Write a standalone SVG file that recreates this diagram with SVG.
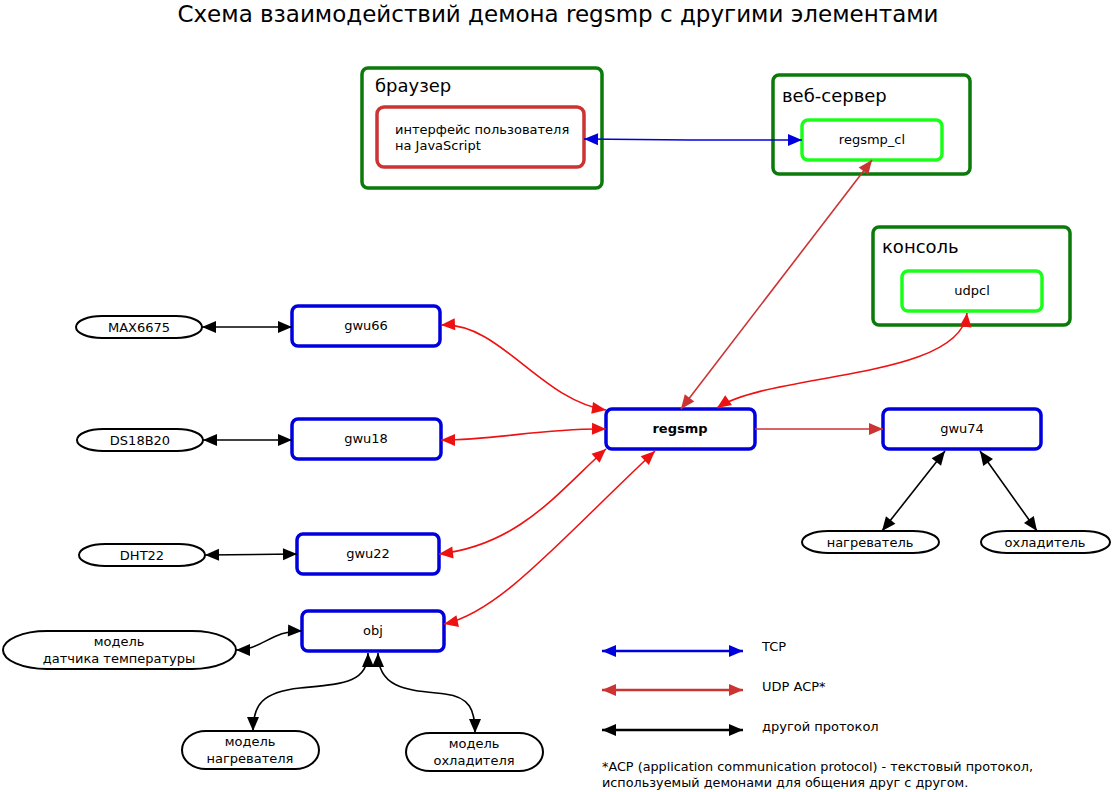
<svg xmlns="http://www.w3.org/2000/svg" width="1114" height="792" viewBox="0 0 1114 792">
<defs>
<style>
text{font-family:"DejaVu Sans","Liberation Sans",sans-serif;fill:#000}
.title{font-size:23px;text-anchor:middle}
.glabel{font-size:18px}
.lbl{font-size:13px;text-anchor:middle}
.bold{font-weight:bold}
.grp{fill:#fff;stroke:#0a7a0a;stroke-width:3.5}
.inner{fill:#fff;stroke:#1aff1a;stroke-width:3.5}
.ui{fill:#fff;stroke:#cc3333;stroke-width:3.5}
.node{fill:#fff;stroke:#0000dd;stroke-width:3.5}
.ell{fill:#fff;stroke:#000;stroke-width:2}
.c{fill:none;stroke-width:1.6}
.tcp{stroke:#0000dd;marker-start:url(#ab);marker-end:url(#ab)}
.udp{stroke:#ee1111;marker-start:url(#ar);marker-end:url(#ar)}
.udp2{stroke:#cc3333;marker-start:url(#ad);marker-end:url(#ad)}
.oth{stroke:#000;marker-start:url(#ak);marker-end:url(#ak)}
.leg{stroke-width:2.5}
</style>
<marker id="ab" markerUnits="userSpaceOnUse" markerWidth="14" markerHeight="12" refX="14" refY="6" orient="auto-start-reverse" overflow="visible"><path d="M0,0 L14,6 L0,12 z" fill="#0000dd"/></marker>
<marker id="ar" markerUnits="userSpaceOnUse" markerWidth="14" markerHeight="12" refX="14" refY="6" orient="auto-start-reverse" overflow="visible"><path d="M0,0 L14,6 L0,12 z" fill="#ee1111"/></marker>
<marker id="ad" markerUnits="userSpaceOnUse" markerWidth="14" markerHeight="12" refX="14" refY="6" orient="auto-start-reverse" overflow="visible"><path d="M0,0 L14,6 L0,12 z" fill="#cc3333"/></marker>
<marker id="ak" markerUnits="userSpaceOnUse" markerWidth="14" markerHeight="12" refX="14" refY="6" orient="auto-start-reverse" overflow="visible"><path d="M0,0 L14,6 L0,12 z" fill="#000"/></marker>
</defs>
<rect width="1114" height="792" fill="#fff"/>
<text class="title" x="558" y="22">Схема взаимодействий демона regsmp с другими элементами</text>

<g id="browser">
<rect class="grp" x="362" y="68" width="240" height="120" rx="6"/>
<text class="glabel" x="375" y="92">браузер</text>
</g>
<g id="ui">
<rect class="ui" x="377" y="107" width="207" height="60" rx="7"/>
<text class="lbl" style="text-anchor:start" x="395" y="134">интерфейс пользователя</text>
<text class="lbl" style="text-anchor:start" x="395" y="150">на JavaScript</text>
</g>
<g id="webserver">
<rect class="grp" x="773" y="75" width="197" height="99" rx="6"/>
<text class="glabel" x="782" y="102">веб-сервер</text>
</g>
<g id="regsmp_cl">
<rect class="inner" x="802" y="120" width="140" height="40" rx="6"/>
<text class="lbl" x="872" y="144">regsmp_cl</text>
</g>
<g id="console">
<rect class="grp" x="873" y="227" width="197" height="98" rx="6"/>
<text class="glabel" x="882" y="253">консоль</text>
</g>
<g id="udpcl">
<rect class="inner" x="902" y="271" width="140" height="40" rx="6"/>
<text class="lbl" x="972" y="295">udpcl</text>
</g>

<g id="gwu66"><rect class="node" x="292" y="306" width="148" height="40" rx="6"/><text class="lbl" x="366" y="330">gwu66</text></g>
<g id="gwu18"><rect class="node" x="292" y="419" width="149" height="40" rx="6"/><text class="lbl" x="366" y="443">gwu18</text></g>
<g id="gwu22"><rect class="node" x="297" y="534" width="142" height="40" rx="6"/><text class="lbl" x="368" y="558">gwu22</text></g>
<g id="obj"><rect class="node" x="302" y="611" width="142" height="40" rx="6"/><text class="lbl" x="373" y="635">obj</text></g>
<g id="regsmp"><rect class="node" x="606" y="409" width="149" height="40" rx="6"/><text class="lbl bold" x="680" y="433">regsmp</text></g>
<g id="gwu74"><rect class="node" x="883" y="409" width="158" height="40" rx="6"/><text class="lbl" x="962" y="433">gwu74</text></g>

<g id="max6675"><rect class="ell" x="76" y="316" width="126" height="22" rx="26" ry="11"/><text class="lbl" x="139" y="332">MAX6675</text></g>
<g id="ds18b20"><rect class="ell" x="77" y="429" width="126" height="22" rx="26" ry="11"/><text class="lbl" x="140" y="445">DS18B20</text></g>
<g id="dht22"><rect class="ell" x="79" y="544" width="126" height="22" rx="26" ry="11"/><text class="lbl" x="142" y="560">DHT22</text></g>
<g id="model_temp"><rect class="ell" x="3" y="631" width="233" height="38" rx="44" ry="19"/><text class="lbl" x="119" y="646">модель</text><text class="lbl" x="119" y="663">датчика температуры</text></g>
<g id="model_heat"><rect class="ell" x="182" y="731" width="137" height="38" rx="24" ry="19"/><text class="lbl" x="250" y="746">модель</text><text class="lbl" x="250" y="763">нагревателя</text></g>
<g id="model_cool"><rect class="ell" x="406" y="733" width="137" height="38" rx="24" ry="19"/><text class="lbl" x="474" y="748">модель</text><text class="lbl" x="474" y="765">охладителя</text></g>
<g id="heater"><rect class="ell" x="802" y="531" width="137" height="22" rx="26" ry="11"/><text class="lbl" x="870" y="547">нагреватель</text></g>
<g id="cooler"><rect class="ell" x="981" y="531" width="129" height="22" rx="26" ry="11"/><text class="lbl" x="1045" y="547">охладитель</text></g>

<g id="connectors">
<path class="c tcp" d="M584,139 L690,140 L802,140"/>
<path class="c udp2" d="M681,409 L872,160"/>
<path class="c udp" d="M717,408 C770,372 960,380 967,313"/>
<path class="c udp" d="M606,410 C540,400 500,322 441,325"/>
<path class="c udp" d="M606,429 C540,428 500,440 441,440"/>
<path class="c udp" d="M606,449 C560,490 520,545 439,554"/>
<path class="c udp" d="M655,451 C560,540 500,612 444,624"/>
<path class="c" style="stroke:#cc3333;marker-end:url(#ad)" d="M755,429 L883,429"/>
<path class="c oth" d="M202,327 L292,327"/>
<path class="c oth" d="M203,440 L292,440"/>
<path class="c oth" d="M205,555 L297,554"/>
<path class="c oth" d="M236,650 C262,650 272,630 302,631"/>
<path class="c oth" d="M368,653 C368,684 340,684 300,688 C262,692 253,705 253,731"/>
<path class="c oth" d="M378,653 C378,690 410,690 445,694 C470,697 475,710 475,733"/>
<path class="c oth" d="M945,451 L882,531"/>
<path class="c oth" d="M980,451 L1037,531"/>
</g>

<g id="legend">
<path class="c tcp leg" d="M602,651 L743,651"/>
<path class="c udp2 leg" d="M602,690 L743,690"/>
<path class="c oth leg" d="M602,730 L743,730"/>
<text class="lbl" style="text-anchor:start" x="762" y="651">TCP</text>
<text class="lbl" style="text-anchor:start" x="762" y="691">UDP ACP*</text>
<text class="lbl" style="text-anchor:start" x="762" y="731">другой протокол</text>
<text class="lbl" style="text-anchor:start;font-size:12.8px" x="602" y="771">*ACP (application communication protocol) - текстовый протокол,</text>
<text class="lbl" style="text-anchor:start;font-size:12.8px" x="602" y="787">используемый демонами для общения друг с другом.</text>
</g>
</svg>
